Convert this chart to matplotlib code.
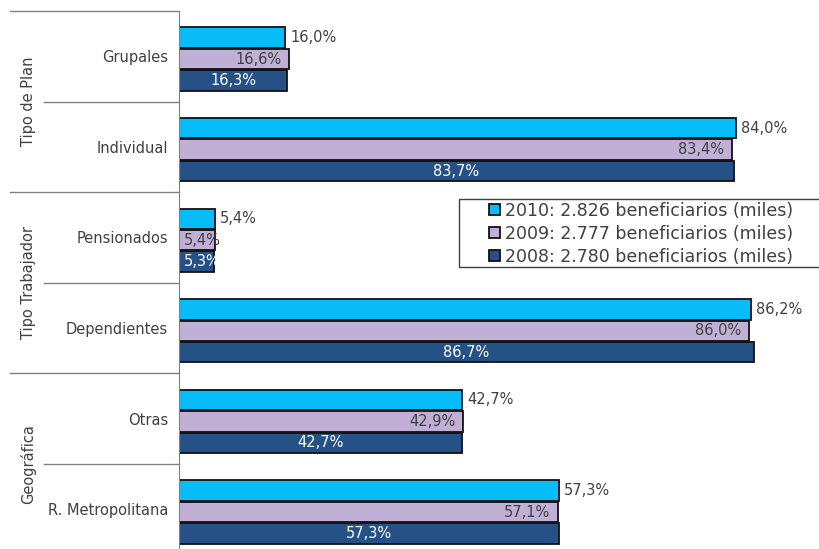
import matplotlib.pyplot as plt
from matplotlib.patches import Rectangle

categories = ['Grupales', 'Individual', 'Pensionados', 'Dependientes', 'Otras', 'R. Metropolitana']
groups = ['Tipo de Plan', 'Tipo Trabajador', 'Geográfica']
v2010 = [16.0, 84.0, 5.4, 86.2, 42.7, 57.3]
v2009 = [16.6, 83.4, 5.4, 86.0, 42.9, 57.1]
v2008 = [16.3, 83.7, 5.3, 86.7, 42.7, 57.3]
legend_labels = ['2010: 2.826 beneficiarios (miles)',
                 '2009: 2.777 beneficiarios (miles)',
                 '2008: 2.780 beneficiarios (miles)']

colors = ['#06BDFA', '#C1B0D6', '#255187']
txt = '#404040'
fs = 10.5


def fmt(v):
    return f'{v:.1f}%'.replace('.', ',')


fig = plt.figure(figsize=(8.2, 5.49), dpi=100)
W, H = 820, 549
ax = fig.add_axes([179 / W, 0, 641 / W, 538 / H])

ypos = list(range(len(categories)))
h = 0.225
step = 0.237
series = [v2010, v2009, v2008]
for i, (vals, col, lab) in enumerate(zip(series, colors, legend_labels)):
    ys = [y + (i - 1) * step + 0.03 for y in ypos]
    ax.barh(ys, vals, height=h, color=col, edgecolor='#111111', linewidth=1.3, label=lab)
    for y, v in zip(ys, vals):
        if i == 0:
            ax.text(v + 0.8, y, fmt(v), ha='left', va='center', fontsize=fs, color=txt)
        elif v < 10:
            ax.text(0.8, y, fmt(v), ha='left', va='center', fontsize=fs,
                    color=txt if i == 1 else 'white')
        elif i == 1:
            ax.text(v - 1.2, y, fmt(v), ha='right', va='center', fontsize=fs, color=txt)
        else:
            ax.text(v / 2, y, fmt(v), ha='center', va='center', fontsize=fs, color='white')

ax.set_xlim(0, 641 / 6.63)
ax.set_ylim(-0.5 + 538 / 90.6, -0.5)
ax.set_yticks(ypos)
ax.set_yticklabels(categories, fontsize=fs, color=txt)
ax.tick_params(axis='y', length=0, pad=8)
ax.set_xticks([])
for s in ['top', 'right', 'bottom']:
    ax.spines[s].set_visible(False)
ax.spines['left'].set_color('#808080')

# separadores de grupos
tr = ax.get_yaxis_transform()
for k, y in enumerate([-0.5, 0.5, 1.5, 2.5, 3.5, 4.5]):
    x0 = -169 / 641 if k % 2 == 0 else -135 / 641
    ax.plot([x0, 0], [y, y], color='#808080', linewidth=1, transform=tr, clip_on=False)
for g, y in zip(groups, [0.5, 2.5, 4.5]):
    ax.text(-151 / 641, y, g, rotation=90, ha='center', va='center', fontsize=fs,
            color=txt, transform=tr)

# caja de la leyenda
fig.patches.append(Rectangle((459 / W, 1 - 267 / H), 362 / W, 68 / H, transform=fig.transFigure,
                             facecolor='white', edgecolor='#404040', linewidth=1, zorder=5))
leg = fig.legend(loc='upper left', bbox_to_anchor=(489 / W, 1 - 202 / H),
                 fontsize=12.5, frameon=False, handlelength=0.65,
                 handleheight=0.6, handletextpad=0.25, labelspacing=0.28,
                 borderpad=0, borderaxespad=0)
leg.set_zorder(6)
for t in leg.get_texts():
    t.set_color(txt)

fig.savefig('out.png', dpi=100)
